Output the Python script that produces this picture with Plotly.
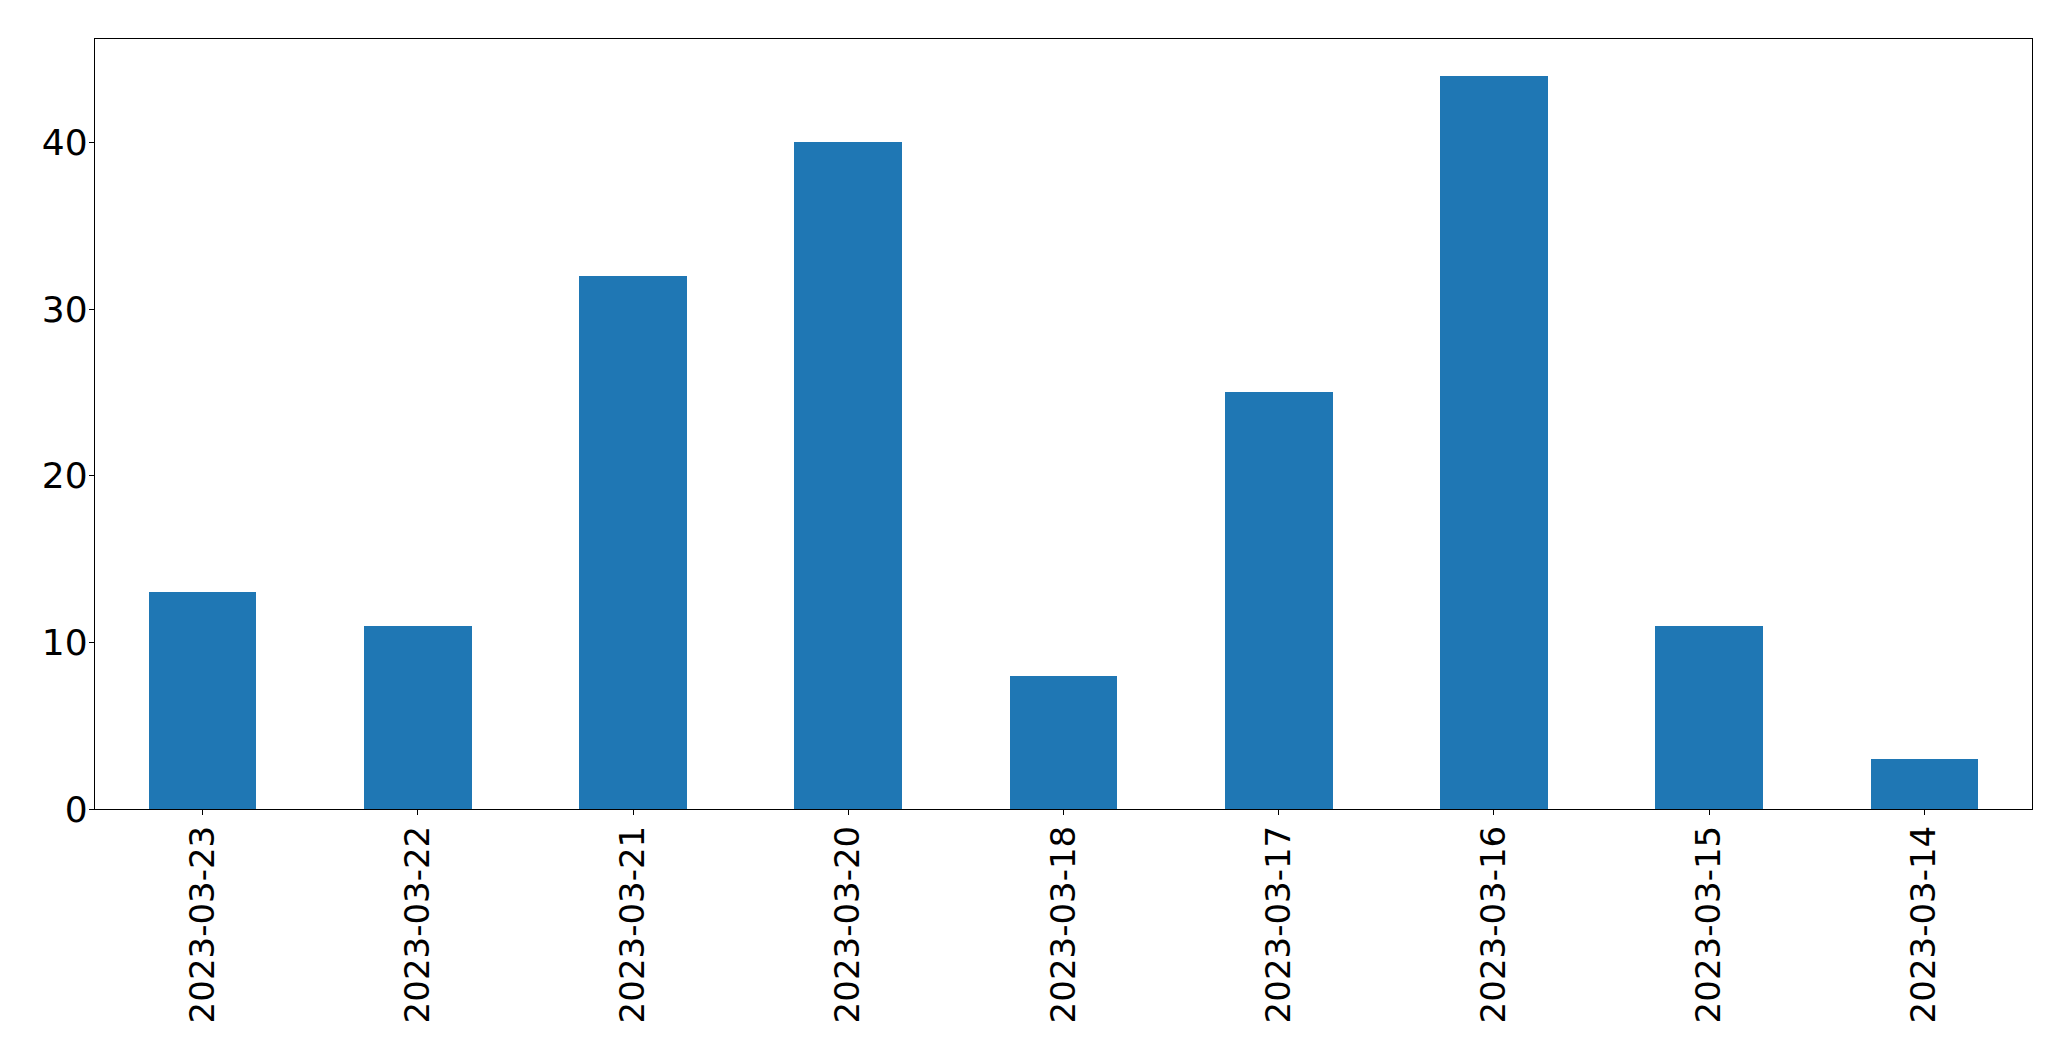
import plotly.graph_objects as go

dates = ["2023-03-23", "2023-03-22", "2023-03-21", "2023-03-20", "2023-03-18",
         "2023-03-17", "2023-03-16", "2023-03-15", "2023-03-14"]
counts = [13, 11, 32, 40, 8, 25, 44, 11, 3]
y_ticks = [0, 10, 20, 30, 40]

fig = go.Figure(go.Bar(x=dates, y=counts, marker=dict(color="#1f77b4", line=dict(width=0)),
                       width=0.5))

fig.update_layout(
    width=2071, height=1061,
    margin=dict(l=95, r=39, t=39, b=252),
    paper_bgcolor="white", plot_bgcolor="white",
    font=dict(family="DejaVu Sans", size=34, color="black"),
    showlegend=False,
    bargap=0,
)
fig.update_xaxes(type="category", range=[-0.5, len(dates) - 0.5],
                 showline=True, linecolor="black", linewidth=1.4, mirror=True,
                 ticks="outside", ticklen=5, tickwidth=1.4, tickcolor="black",
                 tickangle=-90, ticklabelstandoff=-3, showgrid=False, zeroline=False)
fig.update_yaxes(range=[0, 46.2], tickvals=y_ticks,
                 showline=True, linecolor="black", linewidth=1.4, mirror=True,
                 ticks="outside", ticklen=5, tickwidth=1.4, tickcolor="black",
                 tickfont=dict(size=36), ticklabelstandoff=-6,
                 showgrid=False, zeroline=False)

fig.write_html("out.html")
